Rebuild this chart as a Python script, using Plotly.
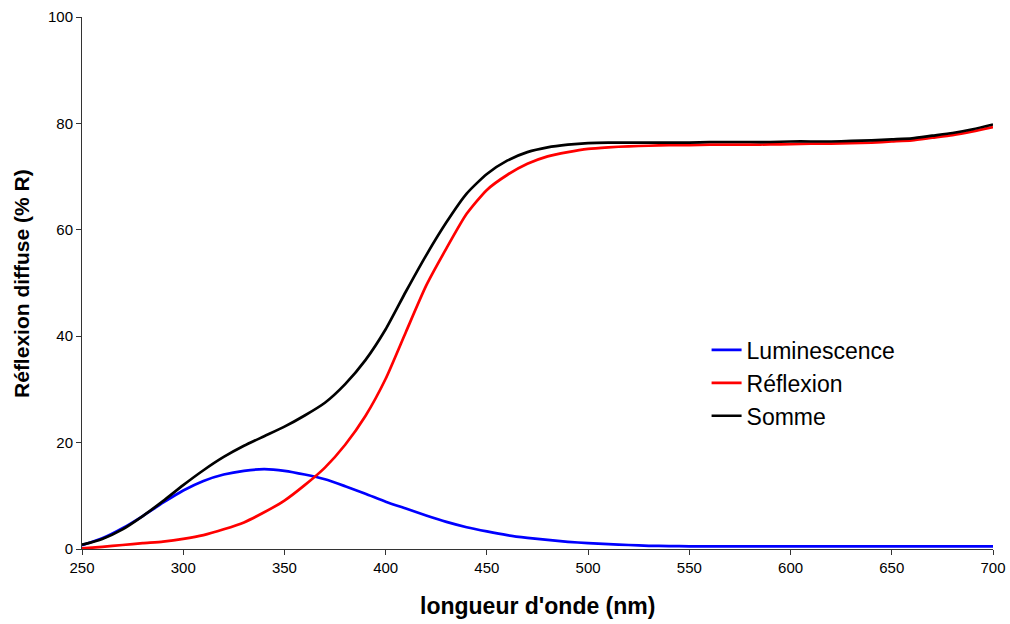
import plotly.graph_objects as go

# Wavelength grid (nm)
wavelength = [250, 260, 270, 280, 290, 300, 310, 320, 330, 340,
              350, 360, 370, 380, 390, 400, 410, 420, 430, 440,
              450, 460, 470, 480, 490, 500, 510, 520, 530, 540,
              550, 560, 570, 580, 590, 600, 610, 620, 630, 640,
              650, 660, 670, 680, 690, 700]

# Luminescence contribution (% R)
luminescence = [0.7, 2.0, 3.9, 6.2, 8.7, 11.0, 12.8, 14.0, 14.7, 15.0,
                14.7, 14.0, 13.1, 11.8, 10.4, 8.9, 7.6, 6.3, 5.1, 4.1,
                3.3, 2.6, 2.1, 1.7, 1.35, 1.1, 0.9, 0.75, 0.6, 0.55,
                0.5, 0.5, 0.5, 0.5, 0.5, 0.5, 0.5, 0.5, 0.5, 0.5,
                0.5, 0.5, 0.5, 0.5, 0.5, 0.5]

# Reflection contribution (% R)
reflexion = [0.1, 0.4, 0.75, 1.1, 1.4, 1.9, 2.6, 3.7, 5.0, 6.9,
             9.1, 12.0, 15.3, 19.6, 25.0, 32.0, 40.8, 49.5, 56.5, 63.0,
             67.5, 70.3, 72.4, 73.8, 74.6, 75.2, 75.5, 75.7, 75.8, 75.9,
             75.9, 76.0, 76.0, 76.0, 76.05, 76.1, 76.2, 76.2, 76.3, 76.4,
             76.6, 76.8, 77.3, 77.8, 78.5, 79.3]

# Total measured diffuse reflection (% R)
somme = [0.8, 1.9, 3.7, 6.2, 9.0, 12.0, 14.8, 17.3, 19.4, 21.2,
         23.0, 25.1, 27.5, 31.0, 35.5, 41.3, 48.4, 55.2, 61.4, 66.8,
         70.5, 73.0, 74.6, 75.5, 76.0, 76.3, 76.4, 76.4, 76.4, 76.4,
         76.4, 76.5, 76.5, 76.5, 76.5, 76.6, 76.6, 76.6, 76.7, 76.8,
         77.0, 77.2, 77.7, 78.2, 78.9, 79.8]

x_ticks = [250, 300, 350, 400, 450, 500, 550, 600, 650, 700]
y_ticks = [0, 20, 40, 60, 80, 100]

FONT = "Liberation Sans, Arial, sans-serif"

series = [
    ("Luminescence", luminescence, "#0000FF"),
    ("Réflexion", reflexion, "#FF0000"),
    ("Somme", somme, "#000000"),
]

fig = go.Figure()
for name, values, color in series:
    fig.add_trace(go.Scatter(
        x=wavelength, y=values, name=name, mode="lines",
        line=dict(color=color, width=2.7, shape="spline", smoothing=0.6),
    ))

axis_common = dict(
    showline=True, linecolor="#333333", linewidth=1,
    ticks="outside", ticklen=5, tickcolor="#333333", tickwidth=1,
    showgrid=False, zeroline=False, automargin=False,
    tickfont=dict(family=FONT, size=15, color="#000000"),
)

fig.update_layout(
    width=1010, height=624,
    margin=dict(l=82, r=17, t=17, b=75),
    paper_bgcolor="white", plot_bgcolor="white",
    font=dict(family=FONT, color="#000000"),
    xaxis=dict(range=[250, 700], tickvals=x_ticks, **axis_common),
    yaxis=dict(range=[0, 100], tickvals=y_ticks, **axis_common),
    legend=dict(
        x=0.6856, y=0.4145, xanchor="left", yanchor="top",
        font=dict(family=FONT, size=23, color="#000000"),
        bgcolor="rgba(0,0,0,0)", itemwidth=30,
    ),
    annotations=[
        dict(text="<b>longueur d'onde (nm)</b>", xref="paper", yref="paper",
             x=0.5, y=-0.107, xanchor="center", yanchor="middle",
             showarrow=False, font=dict(family=FONT, size=23)),
        dict(text="<b>Réflexion diffuse (% R)</b>", xref="paper", yref="paper",
             x=-0.067, y=0.5, xanchor="center", yanchor="middle",
             textangle=-90, showarrow=False, font=dict(family=FONT, size=21)),
    ],
)

fig.write_html("out.html")
